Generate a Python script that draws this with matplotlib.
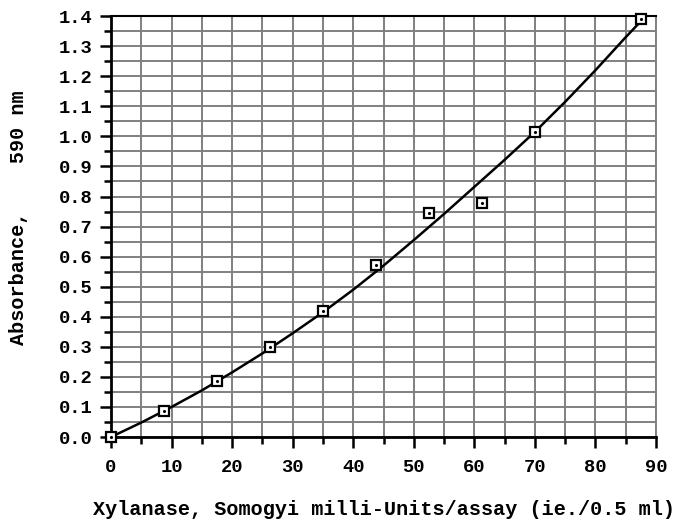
"""
Xylanase standard curve: absorbance at 590 nm vs Somogyi milli-Units per assay
"""

import matplotlib.pyplot as plt
import numpy as np


# measured standards
units = [0, 8.75, 17.5, 26.25, 35, 43.75, 52.5, 61.25, 70, 87.5]
absorbance = [0.0, 0.086, 0.186, 0.300, 0.420, 0.572, 0.745, 0.778, 1.015, 1.390]

# fitted standard curve
curve_x = [0, 5, 10, 15, 20, 25, 30, 35, 40, 45, 50, 55, 60, 65, 70, 75, 80,
           85, 88.3]
curve_y = [0.0, 0.048, 0.100, 0.155, 0.215, 0.278, 0.345, 0.415, 0.490,
           0.570, 0.655, 0.742, 0.832, 0.922, 1.015, 1.115, 1.220, 1.330,
           1.400]

x_ticks = np.arange(0, 91, 10)
y_ticks = np.round(np.arange(0, 1.41, 0.1), 1)
y_labels = [f"{v:.1f}" for v in y_ticks]

plt.rcParams['font.family'] = ['Liberation Mono', 'DejaVu Sans Mono']
plt.rcParams['font.weight'] = 'bold'

fig = plt.figure(figsize=(6.83, 5.2), dpi=100)
ax = fig.add_axes([0.1625, 0.1596, 0.798, 0.8094])

ax.set_xlim(0, 90)
ax.set_ylim(0, 1.4)
ax.set_xticks(x_ticks)
ax.set_xticks(np.arange(5, 90, 10), minor=True)
ax.set_yticks(y_ticks)
ax.set_yticklabels(y_labels)
ax.set_yticks(np.arange(0.05, 1.4, 0.1), minor=True)

ax.grid(True, which='both', color='#808080', linewidth=1.4)
ax.set_axisbelow(True)

ax.tick_params(axis='both', which='major', direction='out', length=8,
               width=1.8, labelsize=13.5, color='black')
ax.tick_params(axis='both', which='minor', direction='out', length=5,
               width=1.8, color='black')
ax.tick_params(axis='x', which='major', pad=8)
ax.tick_params(axis='y', which='major', pad=5)

for side in ['left', 'bottom']:
    ax.spines[side].set_linewidth(2)
    ax.spines[side].set_color('black')
ax.spines['top'].set_linewidth(1.5)
ax.spines['top'].set_color('black')
ax.spines['right'].set_linewidth(1.4)
ax.spines['right'].set_color('#808080')

# curve and standards
ax.plot(curve_x, curve_y, color='black', linewidth=1.8, zorder=3)
ax.plot(units, absorbance, linestyle='none', marker='s', markersize=7,
        markerfacecolor='white', markeredgecolor='black',
        markeredgewidth=1.6, zorder=4, clip_on=False)
ax.plot(units, absorbance, linestyle='none', marker='.', markersize=2.5,
        color='black', zorder=5, clip_on=False)

ax.set_xlabel("Xylanase, Somogyi milli-Units/assay (ie./0.5 ml)",
              fontsize=14.5, fontweight='bold', labelpad=17)
ax.set_ylabel("Absorbance,    590 nm", fontsize=14.5, fontweight='bold')
ax.yaxis.set_label_coords(-0.152, 0.52)

fig.savefig("out.png", dpi=100)
plt.close(fig)
